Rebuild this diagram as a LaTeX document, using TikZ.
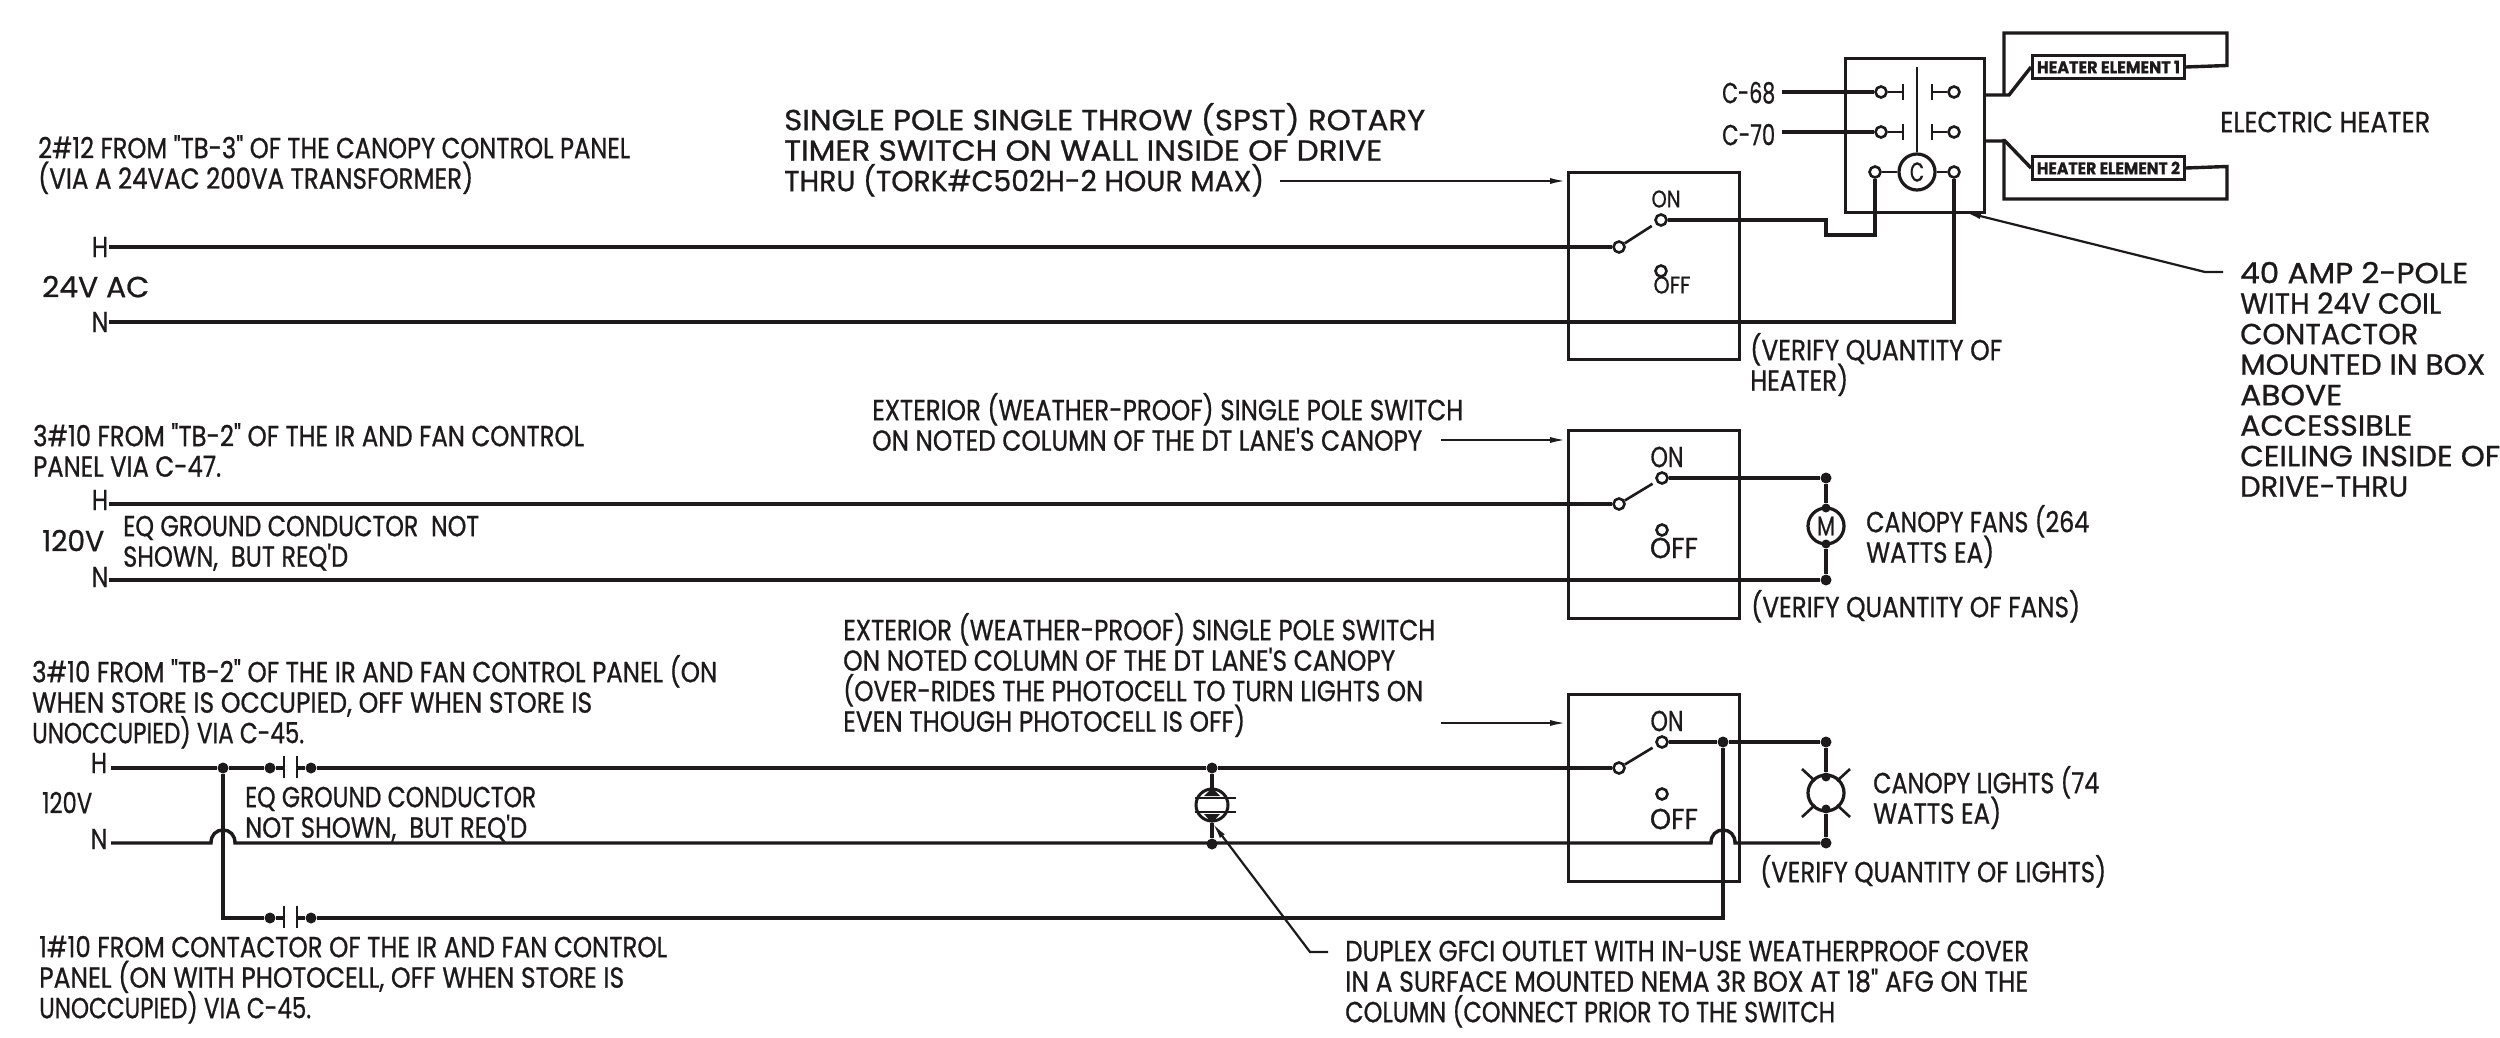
\documentclass[tikz,border=0pt]{standalone}
\usepackage{fontspec}
\usepackage{graphicx}
\usetikzlibrary{arrows.meta,calc}
\newfontfamily\cad[FakeBold=0.8]{Poppins}
\definecolor{ink}{HTML}{1C1A1B}
\newsavebox\fwbox
% one line of text, set to a given width, height fixed at cap height
\newcommand\fw[2]{\sbox\fwbox{#2}\pgfmathsetmacro\fwr{#1/\the\wd\fwbox}\leavevmode\smash{\scalebox{\fwr}[1]{\usebox\fwbox}}\rule[-8pt]{0pt}{28pt}}
% the same with the natural height: for text centred in its node
\newcommand\fwn[2]{\sbox\fwbox{#2}\pgfmathsetmacro\fwr{#1/\the\wd\fwbox}\scalebox{\fwr}[1]{\usebox\fwbox}}
\tikzset{
  x=1pt,y=-1pt,
  lbl/.style={text=ink,inner sep=0pt,anchor=north west,align=left,font=\cad\fontsize{29}{30.5}\selectfont},
  sm/.style={text=ink,inner sep=0pt,anchor=center,font=\cad\fontsize{29}{30.5}\selectfont},
  smr/.style={text=ink,inner sep=0pt,anchor=center,font=\cad\fontsize{24}{24}\selectfont},
  wire/.style={draw=ink,line width=3.4pt},
  thinw/.style={draw=ink,line width=2.6pt},
  box/.style={draw=ink,line width=2.6pt,inner sep=0pt,anchor=north west},
  lead/.style={draw=ink,line width=2.2pt,-{Latex[length=17pt,width=6pt]}},
  term/.style={circle,draw=ink,line width=2.6pt,fill=white,inner sep=0pt,minimum size=11pt},
  dot/.style={circle,fill=ink,inner sep=0pt,minimum size=11pt},
  elem/.style={draw=ink,line width=3pt,inner sep=0pt,anchor=north west,minimum width=152pt,minimum height=23pt,font=\cad\bfseries\fontsize{17}{17}\selectfont,text=ink},
  load/.style={circle,draw=ink,line width=3.2pt,inner sep=0pt,minimum size=36pt,font=\cad\fontsize{27}{27}\selectfont,text=ink},
  switchbox/.style={box,minimum width=171pt},
}
\begin{document}
\begin{tikzpicture}
\fill[white] (0,0) rectangle (2500,1038);
\useasboundingbox (0,0) rectangle (2500,1038);

%% ---- switch boxes
\node[switchbox,minimum height=187pt] (sb1) at (1567,171) {};
\node[switchbox,minimum height=188pt] (sb2) at (1567,429) {};
\node[switchbox,minimum height=187pt] (sb3) at (1567,693) {};
\node[box,minimum width=139pt,minimum height=154pt] (con) at (1844,57) {};

%% ---- terminals
\node[term] (s1b) at (1619,247) {};
\node[term] (s1t) at (1661,220) {};
\node[term] (s1o) at (1661,271) {};
\node[term] (s2b) at (1619,504) {};
\node[term] (s2t) at (1662,478) {};
\node[term] (s2o) at (1662,530) {};
\node[term] (s3b) at (1619,768) {};
\node[term] (s3t) at (1662,742) {};
\node[term] (s3o) at (1662,794) {};
\node[term] (c68a) at (1881,92) {};
\node[term] (c68b) at (1954,92) {};
\node[term] (c70a) at (1881,132) {};
\node[term] (c70b) at (1954,132) {};
\node[term] (coa) at (1875,172) {};
\node[term] (cob) at (1954,172) {};
\node[load] (coil) at (1917,172) {\fwn{14}{C}};

%% ---- row 1 wires
\coordinate (h1w) at (109,247);
\coordinate (n1w) at (109,322);
\draw[wire] (h1w) -- (s1b);
\draw[thinw] (s1b) -- ($(s1b)!0.78!(s1t)$);
\draw[wire] (s1t) -- (1826,220) -- (1826,235) -- (1875,235) -- (coa);
\draw[wire] (n1w) -- (1954,322) -- (cob);
\draw[thinw] (coa) -- (coil);
\draw[thinw] (coil) -- (cob);
\draw[thinw] (coil) -- (1917,67);

%% ---- contactor poles
\coordinate (c68w) at (1782,92);
\coordinate (c70w) at (1782,132);
\draw[wire] (c68w) -- (c68a);
\draw[wire] (c70w) -- (c70a);
\draw[thinw] (c68a) -- (1903,92) (1903,84) -- (1903,100);
\draw[thinw] (c70a) -- (1903,132) (1903,124) -- (1903,140);
\draw[thinw] (c68b) -- (1932,92) (1932,84) -- (1932,100);
\draw[thinw] (c70b) -- (1932,132) (1932,124) -- (1932,140);

%% ---- heater elements
\node[elem] (he1) at (2031,54) {\fwn{143}{HEATER ELEMENT 1}};
\node[elem] (he2) at (2031,155) {\fwn{143}{HEATER ELEMENT 2}};
\draw[wire] (con.east |- 0,95) -- (2009,95) -- (he1.west);
\draw[wire] (2004,95) -- (2004,33) -- (2227,33) -- (2227,65.5) -- (he1.east);
\draw[wire] (con.east |- 0,141) -- (2005,141) -- (he2.west);
\draw[wire] (2004,139) -- (2004,199) -- (2227,199) -- (2227,166.5) -- (he2.east);

%% ---- row 2 wires
\coordinate (h2w) at (109,504);
\coordinate (n2w) at (109,580);
\node[dot] (d2t) at (1826,478) {};
\node[dot] (d2b) at (1826,580) {};
\node[load] (mot) at (1826,526) {\fwn{18}{M}};
\node[dot,minimum size=9pt] (m2t) at (1826,508) {};
\node[dot,minimum size=9pt] (m2b) at (1826,544) {};
\draw[wire] (h2w) -- (s2b);
\draw[thinw] (s2b) -- ($(s2b)!0.78!(s2t)$);
\draw[wire] (s2t) -- (d2t) -- (m2t);
\draw[wire] (m2b) -- (d2b) -- (n2w);

%% ---- row 3 wires
\coordinate (h3w) at (111,768);
\coordinate (n3w) at (111,843);
\node[dot] (d3t) at (1826,742) {};
\node[dot] (d3b) at (1826,843) {};
\node[dot] (d3j) at (1723,742) {};
\node[dot] (d3a) at (223,768) {};
\node[dot] (c1a) at (270,768) {};
\node[dot] (c1b) at (311,768) {};
\node[dot] (c2a) at (270,918) {};
\node[dot] (c2b) at (311,918) {};
\node[dot] (o3t) at (1212,768) {};
\node[dot] (o3b) at (1212,844) {};
\node[load] (lamp) at (1826,793) {};
\node[dot,minimum size=9pt] (l3t) at (1826,777) {};
\node[dot,minimum size=9pt] (l3b) at (1826,809) {};
\draw[wire] (h3w) -- (d3a) -- (c1a) -- (284,768);
\draw[wire] (297,768) -- (c1b) -- (o3t) -- (s3b);
\draw[thinw] (s3b) -- ($(s3b)!0.78!(s3t)$);
\draw[wire] (s3t) -- (d3j) -- (d3t) -- (l3t);
\draw[wire] (l3b) -- (d3b);
\draw[wire] (n3w) -- (211,843) .. controls (211,835) and (216,830) .. (223,830) .. controls (230,830) and (235,835) .. (235,843) -- (1711,843) .. controls (1711,835) and (1716,830) .. (1723,830) .. controls (1730,830) and (1735,835) .. (1735,843) -- (d3b);
\draw[wire] (d3a) -- (223,918) -- (c2a) -- (284,918);
\draw[wire] (297,918) -- (c2b) -- (1723,918) -- (d3j);
\draw[thinw] (284,756) -- (284,778) (297,756) -- (297,778);
\draw[thinw] (284,906) -- (284,928) (297,906) -- (297,928);
\draw[thinw] (1802,769) -- (1815,781) (1850,769) -- (1837,781) (1802,817) -- (1815,805) (1850,817) -- (1837,805);

%% ---- outlet
\node[circle,draw=ink,line width=3pt,fill=white,inner sep=0pt,minimum size=32pt] (gfci) at (1212,805) {};
\draw[wire] (o3t) -- (gfci.north);
\draw[wire] (gfci.south) -- (o3b);
\fill[ink] (1212,788) -- (1204,796) -- (1220,796) -- cycle;
\fill[ink] (1212,823) -- (1204,814) -- (1220,814) -- cycle;
\draw[thinw] (gfci.west |- 0,798) -- (1236,798) (gfci.west |- 0,812) -- (1236,812);

%% ---- leaders
\coordinate (a1) at (1280,181);
\coordinate (a2) at (1441,440);
\coordinate (a3) at (1441,723);
\coordinate (l40) at (2223,272);
\coordinate (l40k) at (2205,272);
\coordinate (ldx) at (1328,952);
\coordinate (ldxk) at (1310,952);
\draw[lead] (a1) -- (a1 -| sb1.west);
\draw[lead] (a2) -- (a2 -| sb2.west);
\draw[lead] (a3) -- (a3 -| sb3.west);
\draw[lead] (l40) -- (l40k) -- (1964,212);
\draw[lead] (ldx) -- (ldxk) -- (gfci.south);

%% ---- wire labels
\node[sm] (h1) at (100,247) {\fwn{16}{H}};
\node[sm] (n1) at (100,322) {\fwn{17}{N}};
\node[sm] (h2) at (100,500) {\fwn{16}{H}};
\node[sm] (n2) at (100,577) {\fwn{17}{N}};
\node[sm] (h3) at (99,763) {\fwn{16}{H}};
\node[sm] (n3) at (99,839) {\fwn{17}{N}};
\node[lbl] (v24) at (42,277) {\fw{107}{24V AC}};
\node[lbl] (v120a) at (42,531) {\fw{62}{120V}};
\node[lbl] (v120b) at (42,793) {\fw{50}{120V}};
\node[lbl] (c68) at (1722,83) {\fw{53}{C-68}};
\node[lbl] (c70) at (1722,125) {\fw{53}{C-70}};

%% ---- switch position labels
\node[smr] (on1) at (1666,199) {\fwn{29}{ON}};
\node[smr] (off1) at (1672,285) {\fwn{37}{OFF}};
\node[sm] (on2) at (1667,457) {\fwn{33}{ON}};
\node[sm] (off2) at (1674,548) {\fwn{48}{OFF}};
\node[sm] (on3) at (1667,721) {\fwn{33}{ON}};
\node[sm] (off3) at (1674,819) {\fwn{48}{OFF}};

%% ---- notes
\node[lbl] (t1) at (38,138) {\fw{592}{2\#12 FROM "TB-3" OF THE CANOPY CONTROL PANEL}\\\fw{435}{(VIA A 24VAC 200VA TRANSFORMER)}};
\node[lbl] (t2) at (784,110) {\fw{641}{SINGLE POLE SINGLE THROW (SPST) ROTARY}\\\fw{598}{TIMER SWITCH ON WALL INSIDE OF DRIVE}\\\fw{480}{THRU (TORK\#C502H-2 HOUR MAX)}};
\node[lbl] (t3) at (33,426) {\fw{551}{3\#10 FROM "TB-2" OF THE IR AND FAN CONTROL}\\\fw{188}{PANEL VIA C-47.}};
\node[lbl] (t4) at (123,516) {\fw{356}{EQ GROUND CONDUCTOR\ \ NOT}\\\fw{225}{SHOWN,\ \ BUT REQ'D}};
\node[lbl] (t5) at (872,400) {\fw{591}{EXTERIOR (WEATHER-PROOF) SINGLE POLE SWITCH}\\\fw{550}{ON NOTED COLUMN OF THE DT LANE'S CANOPY}};
\node[lbl] (t6) at (843,620) {\fw{592}{EXTERIOR (WEATHER-PROOF) SINGLE POLE SWITCH}\\\fw{552}{ON NOTED COLUMN OF THE DT LANE'S CANOPY}\\\fw{580}{(OVER-RIDES THE PHOTOCELL TO TURN LIGHTS ON}\\\fw{402}{EVEN THOUGH PHOTOCELL IS OFF)}};
\node[lbl] (t7) at (32,662) {\fw{685}{3\#10 FROM "TB-2" OF THE IR AND FAN CONTROL PANEL (ON}\\\fw{560}{WHEN STORE IS OCCUPIED, OFF WHEN STORE IS}\\\fw{272}{UNOCCUPIED) VIA C-45.}};
\node[lbl] (t8) at (245,787) {\fw{291}{EQ GROUND CONDUCTOR}\\\fw{282}{NOT SHOWN,\ \ BUT REQ'D}};
\node[lbl] (t9) at (39,937) {\fw{628}{1\#10 FROM CONTACTOR OF THE IR AND FAN CONTROL}\\\fw{585}{PANEL (ON WITH PHOTOCELL, OFF WHEN STORE IS}\\\fw{272}{UNOCCUPIED) VIA C-45.}};
\node[lbl] (t10) at (1345,941) {\fw{684}{DUPLEX GFCI OUTLET WITH IN-USE WEATHERPROOF COVER}\\\fw{683}{IN A SURFACE MOUNTED NEMA 3R BOX AT 18" AFG ON THE}\\\fw{490}{COLUMN (CONNECT PRIOR TO THE SWITCH}};
\node[lbl] (t11) at (1750,340) {\fw{252}{(VERIFY QUANTITY OF}\\\fw{98}{HEATER)}};
\node[lbl] (t12) at (1751,597) {\fw{329}{(VERIFY QUANTITY OF FANS)}};
\node[lbl] (t13) at (1760,862) {\fw{346}{(VERIFY QUANTITY OF LIGHTS)}};
\node[lbl] (t14) at (1866,512) {\fw{223}{CANOPY FANS (264}\\\fw{128}{WATTS EA)}};
\node[lbl] (t15) at (1873,773) {\fw{226}{CANOPY LIGHTS (74}\\\fw{128}{WATTS EA)}};
\node[lbl] (t16) at (2220,112) {\fw{210}{ELECTRIC HEATER}};
\node[lbl] (t17) at (2240,263) {\fw{228}{40 AMP 2-POLE}\\\fw{201}{WITH 24V COIL}\\\fw{178}{CONTACTOR}\\\fw{245}{MOUNTED IN BOX}\\\fw{102}{ABOVE}\\\fw{172}{ACCESSIBLE}\\\fw{260}{CEILING INSIDE OF}\\\fw{168}{DRIVE-THRU}};
\end{tikzpicture}
\end{document}
